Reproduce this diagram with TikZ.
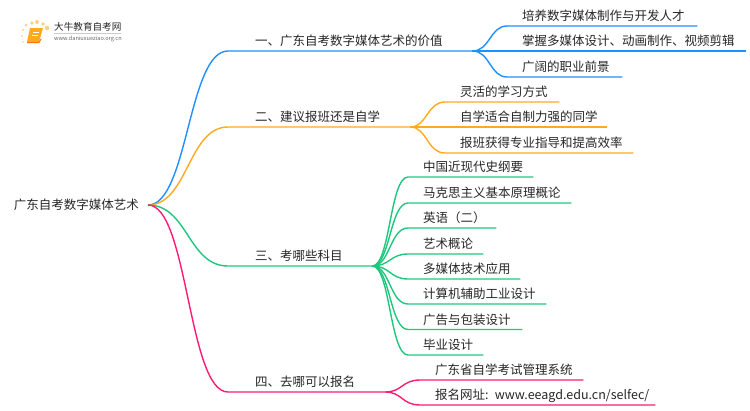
\documentclass[tikz,border=0pt]{standalone}
\usepackage{fontspec}
\setmainfont{Noto Sans CJK SC}
\definecolor{bleu}{HTML}{1E90FF}
\definecolor{orange2}{HTML}{FFAA1E}
\definecolor{vert}{HTML}{1FC77E}
\definecolor{rose}{HTML}{FF1A75}
\definecolor{encre}{HTML}{262626}
\tikzset{lien/.style = {line width=1.4pt},
         racine/.style = {inner xsep=9pt, inner ysep=0pt, text=encre, font=\fontsize{12.5}{15}\selectfont},
         branche/.style = {inner xsep=27pt, inner ysep=2pt, anchor=south west, align=left,
                           text height=10pt, text depth=3pt, text=encre,
                           text width=#1pt-54pt, font=\fontsize{12.5}{15}\selectfont},
         feuille/.style = {inner xsep=15pt, inner ysep=2pt, anchor=south west, align=left,
                           text height=10pt, text depth=3pt, text=encre,
                           text width=#1pt-30pt, font=\fontsize{12.5}{15}\selectfont}
        }
\begin{document}
\begin{tikzpicture}[x=1pt,y=-1pt]
\useasboundingbox (0,0) rectangle (750,410);
% logo
\foreach \px/\py/\pr in {47/28/2.3, 43/24/1.9, 37/22/2, 32/23/1.9, 26/25/1.5, 23/30/1.2, 22/36/1, 23/42/.8}
  \fill[orange2!55] (\px,\py) circle (\pr);
\fill[orange2] (30,28) -- (43,28) -- (39,42) -- (27,42) -- cycle;
\draw[orange!90!red, line width=1pt] (27,42.5) -- (39,42.5) -- (41,39);
\draw[white, line width=.5pt] (33,32) -- (39,32) (32,35) -- (38,35);
\node[inner sep=0pt, anchor=west, text=encre, font=\fontsize{9.6}{11}\selectfont] (titre) at (54,27) {大牛教育自考网};
\draw[black!20, line width=.4pt] (54,33.5) -- (121,33.5);
\node[inner sep=0pt, anchor=west, text=black!60, font=\fontsize{5.6}{6}\selectfont] (site) at (54,39) {www.daniuxueziao.org.cn};
% racine
\node[racine, anchor=east] (rac) at (148,205) {广东自考数字媒体艺术};
% branches
\node[branche=244] (b1) at (228,51) {一、广东自考数字媒体艺术的价值};
\node[branche=182] (b2) at (228,127) {二、建议报班还是自学};
\node[branche=144] (b3) at (228,266) {三、考哪些科目};
\node[branche=157] (b4) at (228,392) {四、去哪可以报名};
% feuilles
\node[feuille=190] (f11) at (507,26) {培养数字媒体制作与开发人才};
\node[feuille=239] (f12) at (507,51) {掌握多媒体设计、动画制作、视频剪辑};
\node[feuille=115] (f13) at (507,77) {广阔的职业前景};
\node[feuille=114] (f21) at (445,102) {灵活的学习方式};
\node[feuille=162] (f22) at (445,127) {自学适合自制力强的同学};
\node[feuille=188] (f23) at (445,153) {报班获得专业指导和提高效率};
\node[feuille=125] (f31) at (408,177) {中国近现代史纲要};
\node[feuille=163] (f32) at (408,203) {马克思主义基本原理概论};
\node[feuille=88] (f33) at (408,228) {英语（二）};
\node[feuille=75] (f34) at (408,254) {艺术概论};
\node[feuille=112] (f35) at (408,279) {多媒体技术应用};
\node[feuille=138] (f36) at (408,304) {计算机辅助工业设计};
\node[feuille=114] (f37) at (408,329.5) {广告与包装设计};
\node[feuille=75] (f38) at (408,355) {毕业设计};
\node[feuille=163] (f41) at (420,380) {广东省自学考试管理系统};
\node[feuille=235] (f42) at (420,405) {\makebox[0pt][l]{报名网址: www.eeagd.edu.cn/selfec/}};
% liens
\draw[lien,bleu] (rac.east) .. controls (188,205) and (188,51) .. (b1.south west) -- (b1.south east);
\draw[lien,orange2] (rac.east) .. controls (188,205) and (188,127) .. (b2.south west) -- (b2.south east);
\draw[lien,vert] (rac.east) .. controls (188,205) and (188,266) .. (b3.south west) -- (b3.south east);
\draw[lien,rose] (rac.east) .. controls (188,205) and (188,392) .. (b4.south west) -- (b4.south east);
\draw[lien,bleu] (b1.south east) .. controls (490,51) and (490,26) .. (f11.south west) -- (f11.south east);
\draw[lien,bleu] (b1.south east) -- (f12.south west) -- (f12.south east);
\draw[lien,bleu] (b1.south east) .. controls (490,51) and (490,77) .. (f13.south west) -- (f13.south east);
\draw[lien,orange2] (b2.south east) .. controls (427,127) and (427,102) .. (f21.south west) -- (f21.south east);
\draw[lien,orange2] (b2.south east) -- (f22.south west) -- (f22.south east);
\draw[lien,orange2] (b2.south east) .. controls (427,127) and (427,153) .. (f23.south west) -- (f23.south east);
\draw[lien,vert] (b3.south east) .. controls (390,266) and (390,177) .. (f31.south west) -- (f31.south east);
\draw[lien,vert] (b3.south east) .. controls (390,266) and (390,203) .. (f32.south west) -- (f32.south east);
\draw[lien,vert] (b3.south east) .. controls (390,266) and (390,228) .. (f33.south west) -- (f33.south east);
\draw[lien,vert] (b3.south east) .. controls (390,266) and (390,254) .. (f34.south west) -- (f34.south east);
\draw[lien,vert] (b3.south east) .. controls (390,266) and (390,279) .. (f35.south west) -- (f35.south east);
\draw[lien,vert] (b3.south east) .. controls (390,266) and (390,304) .. (f36.south west) -- (f36.south east);
\draw[lien,vert] (b3.south east) .. controls (390,266) and (390,329.5) .. (f37.south west) -- (f37.south east);
\draw[lien,vert] (b3.south east) .. controls (390,266) and (390,355) .. (f38.south west) -- (f38.south east);
\draw[lien,rose] (b4.south east) .. controls (402,392) and (402,380) .. (f41.south west) -- (f41.south east);
\draw[lien,rose] (b4.south east) .. controls (402,392) and (402,405) .. (f42.south west) -- (f42.south east);
\end{tikzpicture}
\end{document}
